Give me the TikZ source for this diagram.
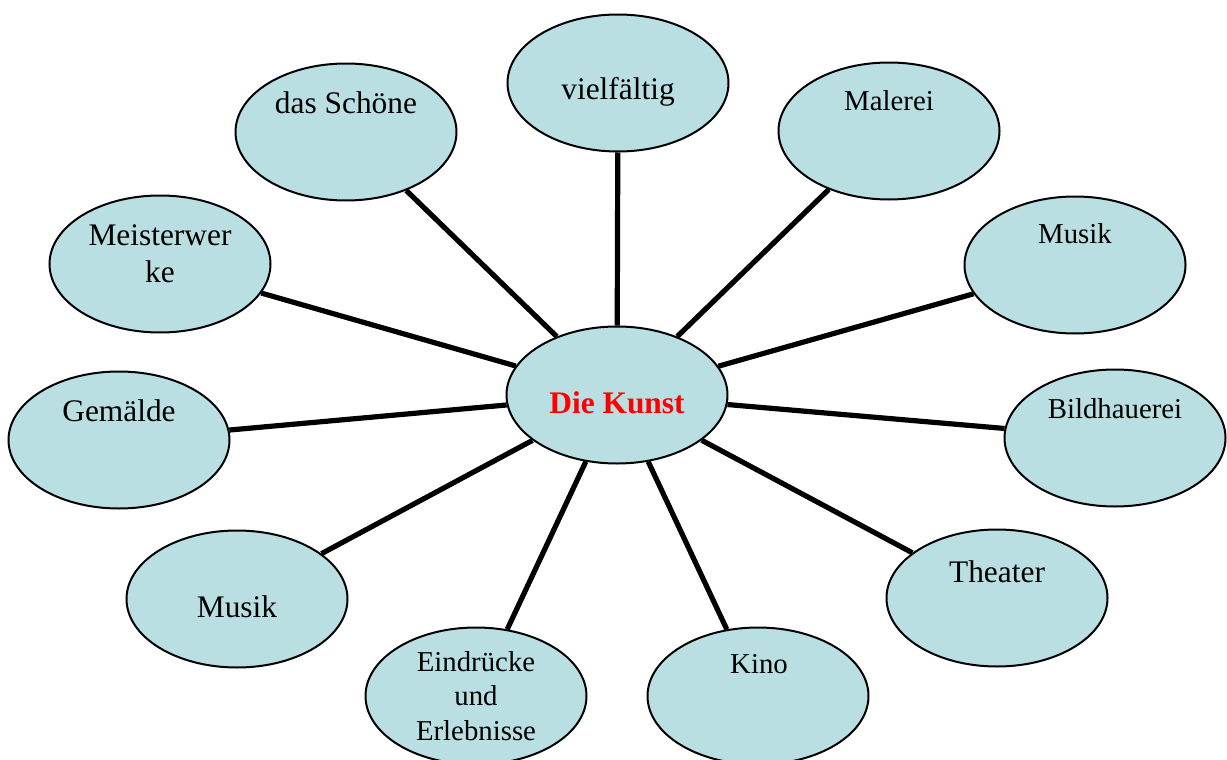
\documentclass[tikz,border=0pt]{standalone}
\usepackage{fontspec}
\setmainfont{Liberation Serif}
\usetikzlibrary{shapes.geometric,backgrounds}
\definecolor{bubblefill}{RGB}{185,223,227}
\begin{document}
\begin{tikzpicture}[x=0.5pt, y=-0.5pt,
		bubble/.style={ellipse, draw, line width=1pt, fill=bubblefill, minimum width=110.5pt, minimum height=68.5pt, inner sep=0pt},
		word/.style={anchor=base, inner sep=0pt, align=center},
		big/.style={word, font=\fontsize{15.7}{18.5}\selectfont},
		small/.style={word, font=\fontsize{14.4}{17.2}\selectfont},
		spoke/.style={line width=2.6pt}]
		\useasboundingbox (0,0) rectangle (1227,760);
		
		% Nodes
		\node[bubble] (kunst) at (617,395) {};
		\node[bubble] (vielf) at (618,83) {};
		\node[bubble] (schoen) at (346,132) {};
		\node[bubble] (maler) at (889,131) {};
		\node[bubble] (meister) at (160,264) {};
		\node[bubble] (musikR) at (1075,265) {};
		\node[bubble] (gemaelde) at (119,440) {};
		\node[bubble] (bildh) at (1115,438) {};
		\node[bubble] (musikL) at (237,599) {};
		\node[bubble] (theater) at (997,598) {};
		\node[bubble] (eindr) at (476,696) {};
		\node[bubble] (kino) at (758,696) {};
		
		% Texts (base = last line)
		\node[big, text=red] (kunstT) at (617,413) {\bfseries Die Kunst};
		\node[big] (vielfT) at (618,99) {vielfältig};
		\node[big] (schoenT) at (346,113) {das Schöne};
		\node[small] (malerT) at (889,110) {Malerei};
		\node[big] (meisterT) at (160,282) {Meisterwer\\ke};
		\node[small] (musikRT) at (1075,243) {Musik};
		\node[big] (gemaeldeT) at (119,421) {Gemälde};
		\node[small] (bildhT) at (1115,418) {Bildhauerei};
		\node[big] (musikLT) at (237,617) {Musik};
		\node[big] (theaterT) at (997,582) {Theater};
		\node[small] (eindrT) at (476,740) {Eindrücke\\und\\Erlebnisse};
		\node[small] (kinoT) at (759,673) {Kino};
		
		% Edges
		\begin{pgfonlayer}{background}
			\draw[spoke] (kunst) -- (vielf);
			\draw[spoke] (kunst) -- (schoen);
			\draw[spoke] (kunst) -- (maler);
			\draw[spoke] (kunst) -- (meister);
			\draw[spoke] (kunst) -- (musikR);
			\draw[spoke] (kunst) -- (gemaelde);
			\draw[spoke] (kunst) -- (bildh);
			\draw[spoke] (kunst) -- (musikL);
			\draw[spoke] (kunst) -- (theater);
			\draw[spoke] (kunst) -- (eindr);
			\draw[spoke] (kunst) -- (kino);
		\end{pgfonlayer}
	\end{tikzpicture}
\end{document}
